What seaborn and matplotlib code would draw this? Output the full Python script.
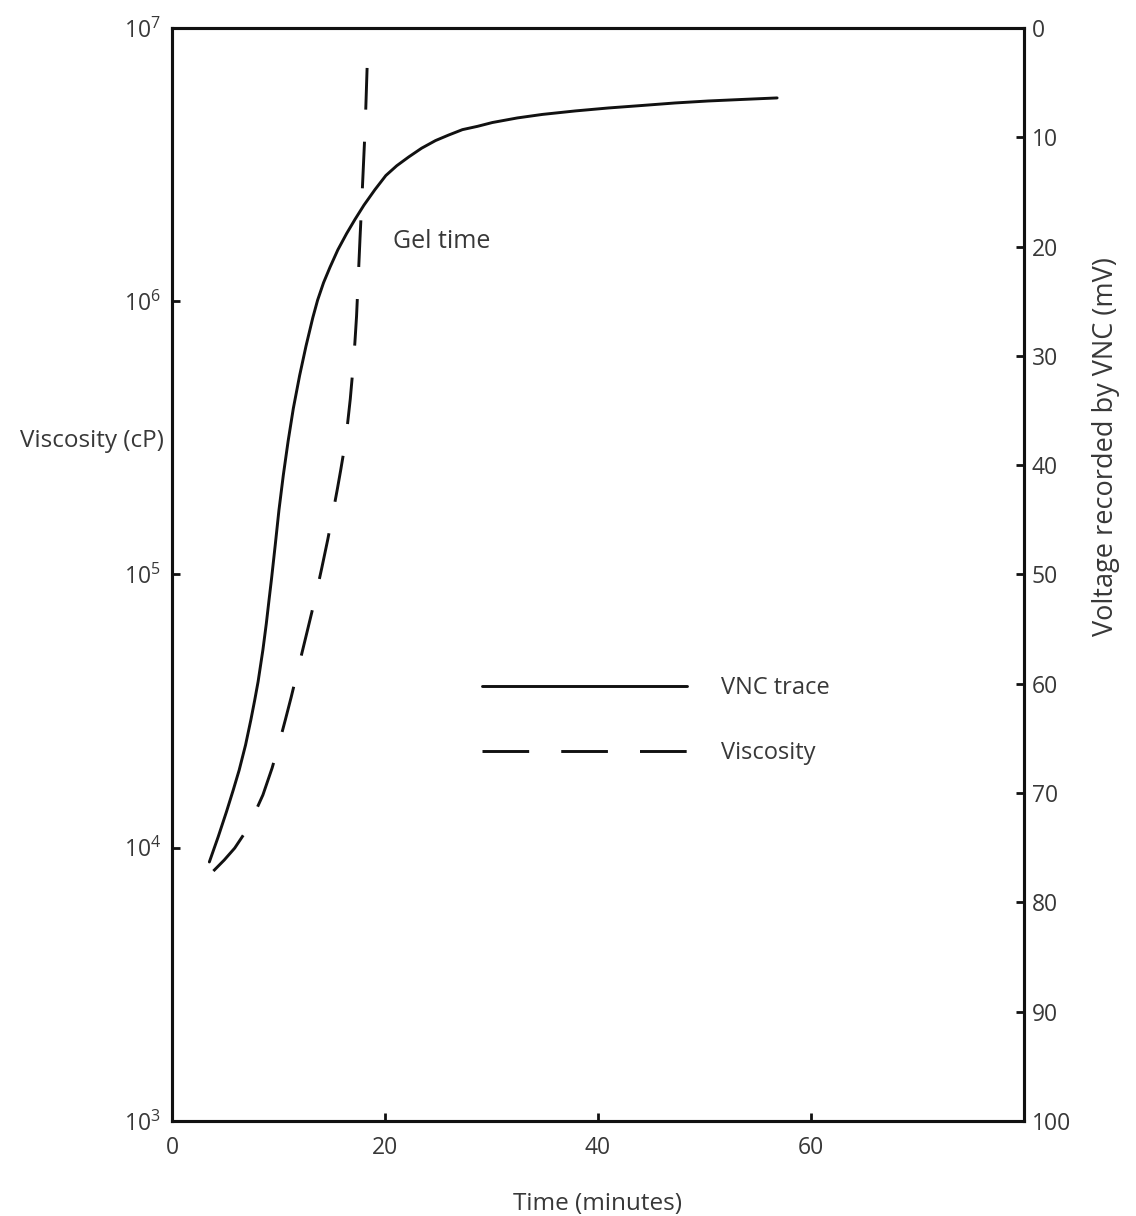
import matplotlib
matplotlib.use("Agg")
import matplotlib.pyplot as plt
import pandas as pd
import seaborn as sns

# VNC voltage trace (right axis, mV, inverted)
vnc_time = [3.51, 4.34, 5.12, 5.76, 6.31, 6.91, 7.41, 7.77, 8.09, 8.54, 8.86, 9.12,
            9.35, 9.70, 10.05, 10.46, 10.91, 11.40, 11.99, 12.59, 13.23, 13.68,
            14.24, 14.84, 15.58, 16.41, 17.20, 18.04, 19.06, 20.09, 21.12, 22.24,
            23.45, 24.76, 25.98, 27.29, 28.70, 30.10, 32.45, 34.79, 37.89, 40.99,
            44.18, 47.28, 50.37, 53.56, 56.85]
vnc_mv = [76.3, 74.0, 71.7, 69.7, 67.9, 65.6, 63.3, 61.5, 59.8, 56.9, 54.5, 52.3,
          50.4, 47.3, 44.1, 40.9, 37.8, 34.8, 31.8, 29.1, 26.5, 24.9,
          23.3, 21.9, 20.3, 18.8, 17.5, 16.2, 14.8, 13.5, 12.6, 11.8,
          11.0, 10.3, 9.8, 9.3, 9.0, 8.65, 8.23, 7.91, 7.59, 7.32,
          7.09, 6.86, 6.68, 6.54, 6.40]

# Viscosity (left axis, cP, log scale)
visc_time = [3.89, 4.91, 5.89, 6.82, 7.70, 8.54, 9.41, 10.05, 10.65, 11.20, 11.75,
             12.30, 12.71, 13.12, 13.62, 14.08, 14.63, 15.08, 15.54, 15.85, 16.17,
             16.48, 16.75, 16.99, 17.18, 17.34, 17.48, 17.67, 17.85, 18.08, 18.18,
             18.33]
visc_cp = [8.22e3, 9.02e3, 9.97e3, 1.13e4, 1.32e4, 1.56e4, 1.96e4, 2.40e4, 2.94e4,
           3.56e4, 4.36e4, 5.34e4, 6.21e4, 7.23e4, 8.77e4, 1.06e5, 1.34e5, 1.65e5,
           2.06e5, 2.41e5, 2.86e5, 3.52e5, 4.39e5, 5.60e5, 7.03e5, 8.83e5, 1.17e6,
           1.72e6, 2.41e6, 3.79e6, 4.72e6, 7.14e6]

x_ticks = [0, 20, 40, 60]
visc_ticks = [1e3, 1e4, 1e5, 1e6, 1e7]
visc_tick_labels = [r"$\mathregular{10^{3}}$", r"$\mathregular{10^{4}}$",
                    r"$\mathregular{10^{5}}$", r"$\mathregular{10^{6}}$",
                    r"$\mathregular{10^{7}}$"]
mv_ticks = list(range(0, 101, 10))

sns.set_style("ticks")
plt.rcParams["font.family"] = ["Open Sans", "DejaVu Sans"]
plt.rcParams["mathtext.fontset"] = "custom"
plt.rcParams["mathtext.rm"] = "Open Sans"
plt.rcParams["mathtext.it"] = "Open Sans:italic"
plt.rcParams["mathtext.bf"] = "Open Sans:bold"

ink = "#111111"
text_c = "#383838"
fs_tick = 16.5
fs_label = 17.5
fs_text = 17

fig = plt.figure(figsize=(11.36, 12.16), dpi=100)
ax = fig.add_axes([0.1514, 0.0781, 0.7496, 0.8989])
ax2 = ax.twinx()

vnc_df = pd.DataFrame({"time": vnc_time, "mv": vnc_mv})
visc_df = pd.DataFrame({"time": visc_time, "cp": visc_cp})

sns.lineplot(data=visc_df, x="time", y="cp", ax=ax, color=ink, linewidth=2.1,
             sort=False, estimator=None, label="Viscosity", legend=False)
visc_line = ax.lines[-1]
visc_line.set_dashes([16, 11])
visc_line.set_dash_capstyle("butt")
visc_line.set_dash_joinstyle("round")

sns.lineplot(data=vnc_df, x="time", y="mv", ax=ax2, color=ink, linewidth=2.1,
             sort=False, estimator=None, label="VNC trace", legend=False)
vnc_line = ax2.lines[-1]
vnc_line.set_solid_joinstyle("round")

ax.set_yscale("log")
ax.set_xlim(0, 80)
ax.set_ylim(1e3, 1e7)
ax.set_xticks(x_ticks)
ax.set_xticklabels([str(v) for v in x_ticks])
ax.set_yticks(visc_ticks)
ax.set_yticklabels(visc_tick_labels)
ax.minorticks_off()

ax2.set_ylim(100, 0)
ax2.set_yticks(mv_ticks)
ax2.set_yticklabels([str(v) for v in mv_ticks])
ax2.minorticks_off()

for a in (ax, ax2):
    for s in a.spines.values():
        s.set_linewidth(2.2)
        s.set_color(ink)
    a.tick_params(direction="in", length=6, width=2, colors=ink,
                  labelcolor=text_c, labelsize=fs_tick, pad=8)
ax.tick_params(axis="x", pad=11)
ax2.tick_params(axis="y", pad=6)

ax.set_xlabel("Time (minutes)", fontsize=fs_label, color=text_c)
ax.xaxis.set_label_coords(0.5, -0.065)
ax.set_ylabel("Viscosity (cP)", fontsize=fs_label, color=text_c, rotation=0,
              ha="right", va="center")
ax.yaxis.set_label_coords(-0.01, 0.622)
ax2.set_ylabel("Voltage recorded by VNC (mV)", fontsize=19.5, color=text_c,
               rotation=90, va="center", ha="center")
ax2.yaxis.set_label_coords(1.097, 0.617)

ax.text(20.8, 1.65e6, "Gel time", fontsize=18, color=text_c, va="center", ha="left")

leg = ax2.legend([vnc_line, visc_line], ["VNC trace", "Viscosity"],
                 loc="upper left", bbox_to_anchor=(0.364, 0.407), frameon=False,
                 fontsize=fs_text, handlelength=8.7, handletextpad=1.42,
                 labelspacing=1.72, borderpad=0, borderaxespad=0)
for t in leg.get_texts():
    t.set_color(text_c)

fig.savefig("out.png", dpi=100)
